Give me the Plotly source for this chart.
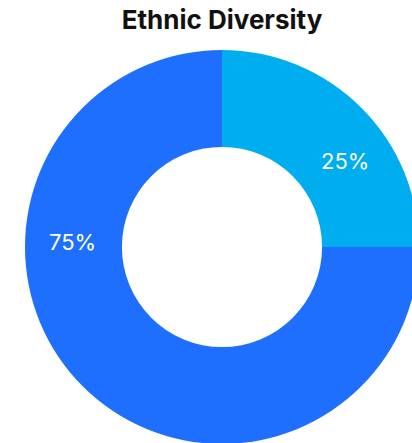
import math
import plotly.graph_objects as go

labels = ["Group B", "Group A"]
values = [25, 75]
colors = ["#00ADEF", "#1F6FFF"]
text_labels = ["25%", "75%"]

W, H = 440, 450
cx, cy, R = 222, 247, 197
# label placement (angle clockwise from 12 o'clock, radius in px)
label_angles = [55, 272]
label_r = 150

fig = go.Figure(go.Pie(
    labels=labels, values=values, hole=0.508, sort=False,
    direction="clockwise", rotation=0,
    marker=dict(colors=colors, line=dict(width=0)),
    textinfo="none",
    domain=dict(x=[(cx - R) / W, (cx + R) / W], y=[(H - (cy + R)) / H, (H - (cy - R)) / H]),
    showlegend=False, hoverinfo="skip",
))
for t, a in zip(text_labels, label_angles):
    px = cx + label_r * math.sin(math.radians(a))
    py = cy - label_r * math.cos(math.radians(a))
    fig.add_annotation(text=t, x=px / W, y=1 - py / H, xref="paper", yref="paper",
                       showarrow=False, xanchor="center", yanchor="middle",
                       font=dict(family="Inter", size=22, color="white"))
fig.update_layout(
    width=W, height=H,
    margin=dict(l=0, r=0, t=0, b=0),
    paper_bgcolor="white", plot_bgcolor="white",
    title=dict(text="<b>Ethnic Diversity</b>", x=cx / W, xanchor="center",
               y=1 - 20 / H, yanchor="middle",
               font=dict(family="Inter", size=26, color="#111111")),
)
fig.write_html("out.html", post_script="document.body.style.overflow='hidden';document.documentElement.style.overflow='hidden';document.body.style.margin='0';")
